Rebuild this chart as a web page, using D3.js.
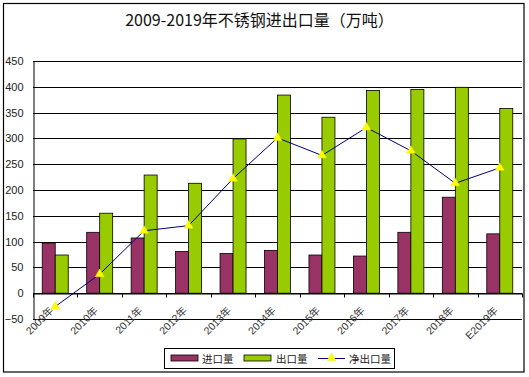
<!DOCTYPE html>
<html>
<head>
<meta charset="utf-8">
<script src="https://cdn.jsdelivr.net/npm/d3@7/dist/d3.min.js"></script>
<style>
  html, body { margin: 0; padding: 0; background: #fff; }
  svg { display: block; }
</style>
</head>
<body>
<div id="chart"></div>
<script>
// data (万吨)
const categories = ['2009年', '2010年', '2011年', '2012年', '2013年', '2014年',
  '2015年', '2016年', '2017年', '2018年', 'E2019年'];
const importVals = [97, 118, 107, 81, 77, 83, 74, 72, 118, 186, 115];
const exportVals = [74, 155, 229, 213, 299, 384, 341, 393, 395, 399, 358];
const netVals = [-26, 37, 121, 131, 222, 301, 267, 321, 276, 213, 243];
const yTicks = [-50, 0, 50, 100, 150, 200, 250, 300, 350, 400, 450];
const seriesNames = ['进口量', '出口量', '净出口量'];

const width = 529;
const height = 377;
const margin = { top: 61, right: 7, bottom: 58, left: 33 };
const plotW = width - margin.left - margin.right;
const plotH = height - margin.top - margin.bottom;

const IMPORT_COLOR = '#993366';
const EXPORT_COLOR = '#99cc00';
const LINE_COLOR = '#000080';
const MARKER_COLOR = '#ffff00';
const FONT = '"Liberation Sans", "Noto Sans CJK SC", sans-serif';

const svg = d3.select('#chart')
  .append('svg')
  .attr('width', width)
  .attr('height', height)
  .attr('viewBox', `0 0 ${width} ${height}`);

// outer chart frame
svg.append('rect')
  .attr('x', 3.5)
  .attr('y', 3.5)
  .attr('width', 520.5)
  .attr('height', 368.5)
  .attr('fill', '#fff')
  .attr('stroke', '#000')
  .attr('stroke-width', 1.2);

svg.append('text')
  .attr('x', 259.5)
  .attr('y', 26)
  .attr('text-anchor', 'middle')
  .style('font-family', '"Noto Sans CJK SC", sans-serif')
  .style('font-size', '16px')
  .attr('fill', '#111')
  .text('2009-2019年不锈钢进出口量（万吨）');

const g = svg.append('g')
  .attr('transform', `translate(${margin.left},${margin.top})`);

// scales
const x = d3.scaleBand()
  .domain(categories)
  .range([0, plotW])
  .padding(0);

const xSub = d3.scaleBand()
  .domain(['import', 'export'])
  .range([0, x.bandwidth()])
  .paddingInner(0)
  .paddingOuter(0.71);

const y = d3.scaleLinear()
  .domain([-50, 450])
  .range([plotH, 0]);

// horizontal gridlines
g.append('g')
  .attr('class', 'grid')
  .selectAll('line')
  .data(yTicks)
  .join('line')
  .attr('x1', 0)
  .attr('x2', plotW)
  .attr('y1', d => Math.round(y(d)) + 0.5)
  .attr('y2', d => Math.round(y(d)) + 0.5)
  .attr('stroke', '#000')
  .attr('stroke-width', 1);

// y axis
const yAxis = d3.axisLeft(y)
  .tickValues(yTicks)
  .tickSize(0)
  .tickPadding(10);

g.append('g')
  .attr('class', 'y-axis')
  .attr('transform', 'translate(0.5,0)')
  .call(yAxis)
  .call(s => s.select('.domain').attr('stroke', '#000'))
  .selectAll('text')
  .style('font-family', FONT)
  .style('font-size', '11px')
  .attr('fill', '#222');

// bars
const groups = g.append('g')
  .attr('class', 'bars')
  .selectAll('g')
  .data(categories)
  .join('g')
  .attr('transform', d => `translate(${x(d)},0)`);

groups.append('rect')
  .attr('x', xSub('import'))
  .attr('y', (d, i) => y(importVals[i]))
  .attr('width', xSub.bandwidth())
  .attr('height', (d, i) => y(0) - y(importVals[i]))
  .attr('fill', IMPORT_COLOR)
  .attr('stroke', '#000')
  .attr('stroke-width', 0.8);

groups.append('rect')
  .attr('x', xSub('export'))
  .attr('y', (d, i) => y(exportVals[i]))
  .attr('width', xSub.bandwidth())
  .attr('height', (d, i) => y(0) - y(exportVals[i]))
  .attr('fill', EXPORT_COLOR)
  .attr('stroke', '#000')
  .attr('stroke-width', 0.8);

// category axis sits at zero, ticks between categories
const xAxis = d3.axisBottom(x)
  .tickSize(0)
  .tickFormat('');

const zeroY = Math.round(y(0)) + 0.5;
g.append('g')
  .attr('class', 'x-axis')
  .attr('transform', `translate(0,${zeroY})`)
  .call(xAxis)
  .call(s => s.select('.domain').attr('stroke', '#000'));

g.append('g')
  .attr('class', 'x-ticks')
  .selectAll('line')
  .data(d3.range(categories.length + 1))
  .join('line')
  .attr('x1', i => Math.round(i * x.step()) + 0.5)
  .attr('x2', i => Math.round(i * x.step()) + 0.5)
  .attr('y1', zeroY)
  .attr('y2', zeroY + 4)
  .attr('stroke', '#000');

// rotated category labels
g.append('g')
  .attr('class', 'x-labels')
  .selectAll('text')
  .data(categories)
  .join('text')
  .attr('transform', d => `translate(${x(d) + x.bandwidth() / 2 - 1},${y(0) + 18}) rotate(-45)`)
  .attr('text-anchor', 'end')
  .style('font-family', FONT)
  .style('font-size', '10.5px')
  .attr('fill', '#333')
  .text(d => d);

// net export line
const cx = (d, i) => x(categories[i]) + x.bandwidth() / 2;
const line = d3.line()
  .x((d, i) => cx(d, i))
  .y(d => y(d));

g.append('path')
  .datum(netVals)
  .attr('fill', 'none')
  .attr('stroke', LINE_COLOR)
  .attr('stroke-width', 1)
  .attr('d', line);

const tri = d3.symbol().type(d3.symbolTriangle).size(34);
g.append('g')
  .attr('class', 'markers')
  .selectAll('path')
  .data(netVals)
  .join('path')
  .attr('transform', (d, i) => `translate(${cx(d, i)},${y(d)})`)
  .attr('d', tri)
  .attr('fill', MARKER_COLOR)
  .attr('stroke', '#eeee00')
  .attr('stroke-width', 0.5);

// legend
const legend = svg.append('g').attr('class', 'legend');
legend.append('rect')
  .attr('x', 164.5)
  .attr('y', 348.5)
  .attr('width', 230)
  .attr('height', 20)
  .attr('fill', '#fff')
  .attr('stroke', '#000');

const legendY = 358;
const swatchX = [171, 244];
[IMPORT_COLOR, EXPORT_COLOR].forEach((c, i) => {
  legend.append('rect')
    .attr('x', swatchX[i])
    .attr('y', legendY - 3)
    .attr('width', 27)
    .attr('height', 6)
    .attr('fill', c)
    .attr('stroke', '#000')
    .attr('stroke-width', 0.8);
});

legend.append('line')
  .attr('x1', 318)
  .attr('x2', 345)
  .attr('y1', legendY + 0.5)
  .attr('y2', legendY + 0.5)
  .attr('stroke', LINE_COLOR);

legend.append('path')
  .attr('transform', `translate(331.5,${legendY})`)
  .attr('d', tri)
  .attr('fill', MARKER_COLOR)
  .attr('stroke', '#eeee00')
  .attr('stroke-width', 0.5);

const textX = [202, 276, 349];
legend.selectAll('text.label')
  .data(seriesNames)
  .join('text')
  .attr('class', 'label')
  .attr('x', (d, i) => textX[i])
  .attr('y', legendY)
  .attr('dominant-baseline', 'central')
  .style('font-family', '"Noto Sans CJK SC", sans-serif')
  .style('font-size', '10.5px')
  .attr('fill', '#222')
  .text(d => d);
</script>
</body>
</html>
